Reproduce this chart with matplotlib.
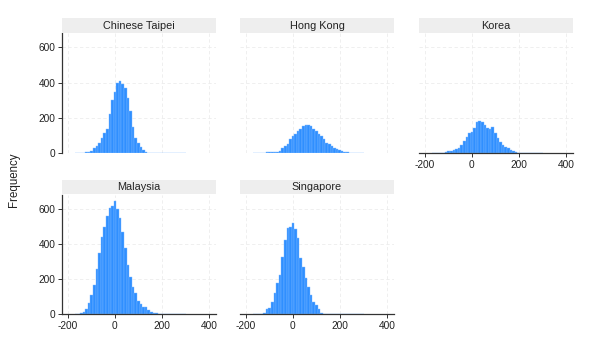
import numpy as np
import matplotlib
matplotlib.use("Agg")
import matplotlib.pyplot as plt

plt.rcParams["font.family"] = ["Liberation Sans", "DejaVu Sans"]
plt.rcParams["axes.unicode_minus"] = False

# common bins: left edges start at -170, width 11
bin_start = -170
bin_width = 11

taipei = [1, 1, 2, 3, 5, 8, 12, 28, 40, 60, 85, 113, 140, 222, 300, 350, 400, 411,
          392, 372, 311, 240, 150, 85, 57, 36, 19, 10, 4, 2, 1, 1, 0, 0, 0, 0, 0,
          0, 0, 0, 0, 0, 0]
hong_kong = [1, 1, 2, 2, 3, 5, 6, 8, 9, 10, 15, 28, 40, 55, 80, 100, 110, 125,
             140, 155, 160, 160, 153, 140, 125, 110, 98, 82, 60, 52, 40, 32, 24,
             20, 12, 7, 5, 3, 2, 2, 1, 1, 1]
korea = [0, 0, 1, 2, 3, 6, 11, 15, 19, 25, 30, 47, 72, 94, 113, 118, 142, 175,
         183, 179, 160, 142, 138, 147, 113, 89, 66, 47, 38, 28, 19, 12, 9, 4, 2,
         1, 0, 0, 0, 0, 0, 0, 0]
malaysia = [2, 4, 6, 13, 28, 62, 110, 167, 256, 347, 441, 494, 559, 602, 617,
            644, 597, 545, 468, 379, 280, 210, 157, 119, 78, 57, 44, 40, 25, 15,
            9, 5, 4, 3, 2, 1, 0, 0, 0, 0, 0, 0, 0]
singapore = [0, 0, 1, 2, 6, 28, 38, 72, 119, 176, 223, 324, 422, 489, 494, 521,
             483, 432, 318, 271, 205, 157, 110, 72, 53, 28, 9, 4, 1, 0, 0, 0, 0,
             0, 0, 0, 0, 0, 0, 0, 0, 0, 0]

panels = ["Chinese Taipei", "Hong Kong", "Korea", "Malaysia", "Singapore"]
series = [taipei, hong_kong, korea, malaysia, singapore]
x_ticks = [-200, 0, 200, 400]
y_ticks = [0, 200, 400, 600]

W, H = 612, 346
fig = plt.figure(figsize=(W / 100, H / 100), dpi=100)

col_left = [62, 240, 419]
row_bottom = [153.3, 314.3]
row_top = [33.3, 194.5]
strip_top = [18.3, 180]
panel_w = 154

bar_color = "#2f8fff"
grid_color = "#ececec"
axis_color = "#333333"

for i, (name, counts) in enumerate(zip(panels, series)):
    r, c = divmod(i, 3)
    left = col_left[c] / W
    ax = fig.add_axes([left, 1 - row_bottom[r] / H, panel_w / W,
                       (row_bottom[r] - row_top[r]) / H])
    lefts = bin_start + bin_width * np.arange(len(counts))
    ax.bar(lefts, counts, width=bin_width, align="edge", color=bar_color,
           edgecolor="#7dbaff", linewidth=0.3, zorder=2)
    ax.set_xlim(-225, 430)
    ax.set_ylim(0, 680)
    ax.set_xticks(x_ticks)
    ax.set_yticks(y_ticks)
    for v in x_ticks:
        ax.axvline(v, color=grid_color, lw=0.6, ls=(0, (4, 3)), zorder=0)
    for v in y_ticks[1:]:
        ax.axhline(v, color=grid_color, lw=0.6, ls=(0, (4, 3)), zorder=0)
    for s in ["top", "right"]:
        ax.spines[s].set_visible(False)

    show_y = c == 0
    show_x = (r == 1) or (c == 2)
    ax.spines["left"].set_visible(show_y)
    ax.spines["bottom"].set_visible(show_x)
    ax.spines["left"].set_color(axis_color)
    ax.spines["bottom"].set_color(axis_color)
    ax.spines["left"].set_linewidth(0.9)
    ax.spines["bottom"].set_linewidth(0.9)
    ax.tick_params(axis="y", left=show_y, labelleft=show_y, length=3,
                   width=0.7, color=axis_color, labelsize=7.3,
                   labelcolor="#222222", pad=1.5)
    ax.tick_params(axis="x", bottom=show_x, labelbottom=show_x, length=3,
                   width=0.7, color=axis_color, labelsize=7.3,
                   labelcolor="#222222", pad=1.5)
    ax.set_facecolor("white")

    # strip title
    sax = fig.add_axes([left, 1 - row_top[r] / H, panel_w / W,
                        (row_top[r] - strip_top[r]) / H])
    sax.set_facecolor("#eeeeee")
    sax.set_xticks([])
    sax.set_yticks([])
    for s in sax.spines.values():
        s.set_visible(False)
    sax.text(0.5, 0.5, name, ha="center", va="center", fontsize=7.8,
             color="#222222", transform=sax.transAxes)

fig.text(14 / W, 1 - 180 / H, "Frequency", rotation=90, ha="center",
         va="center", fontsize=8.3, color="#222222")

fig.savefig("out.png", dpi=100)
